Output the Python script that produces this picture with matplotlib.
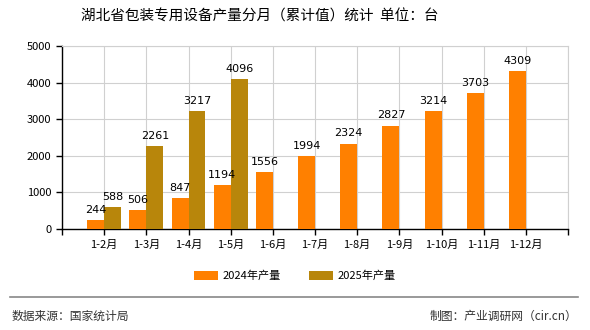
import matplotlib

matplotlib.use("Agg")
import matplotlib.pyplot as plt
import numpy as np

plt.rcParams["font.family"] = ["Noto Sans CJK SC", "DejaVu Sans"]

categories = ["1-2月", "1-3月", "1-4月", "1-5月", "1-6月", "1-7月",
              "1-8月", "1-9月", "1-10月", "1-11月", "1-12月"]
values_2024 = [244, 506, 847, 1194, 1556, 1994, 2324, 2827, 3214, 3703, 4309]
values_2025 = [588, 2261, 3217, 4096]
series_names = ["2024年产量", "2025年产量"]
color_2024 = "#FF8000"
color_2025 = "#B8860B"

fig = plt.figure(figsize=(5.9, 3.3), dpi=100)
ax = fig.add_axes((62 / 590, 1 - 229 / 330, (568 - 62) / 590, (229 - 46) / 330))

x = np.arange(len(categories))
w = 0.4
b1 = ax.bar(x - w / 2, values_2024, width=w, color=color_2024, label=series_names[0], zorder=3)
x25 = np.arange(len(values_2025))
b2 = ax.bar(x25 + w / 2, values_2025, width=w, color=color_2025, label=series_names[1], zorder=3)

for bars, vals in ((b1, values_2024), (b2, values_2025)):
    for bar, v in zip(bars, vals):
        ax.text(bar.get_x() + bar.get_width() / 2, v + 150, f"{v}",
                ha="center", va="bottom", fontsize=8, family="DejaVu Sans", zorder=4)

ax.set_xlim(-1, len(categories))
ax.set_ylim(0, 5000)
ax.set_yticks(range(0, 5001, 1000))
ax.set_xticks(np.arange(-1, len(categories) + 1))
ax.set_xticklabels([""] + categories + [""], fontsize=8)
ax.tick_params(axis="y", labelsize=8, length=4, width=1)
ax.tick_params(axis="x", length=4, width=1)
ax.grid(True, color="#d0d0d0", linewidth=0.8, zorder=0)

for side in ("top", "right"):
    ax.spines[side].set_color("#d0d0d0")
    ax.spines[side].set_linewidth(0.8)
for side in ("left", "bottom"):
    ax.spines[side].set_color("black")
    ax.spines[side].set_linewidth(1)

fig.text(260 / 590, 1 - 17 / 330, "湖北省包装专用设备产量分月（累计值）统计  单位：台",
         ha="center", va="center", fontsize=10.5)

fig.legend(handles=[b1, b2], loc="center", bbox_to_anchor=(0.5, 1 - 276 / 330),
           ncol=2, frameon=False, fontsize=8, handlelength=2.2, handleheight=0.8,
           columnspacing=2.5, handletextpad=0.4)

fig.add_artist(plt.Line2D([10 / 590, 578 / 590], [1 - 297 / 330, 1 - 297 / 330],
                          color="#888888", linewidth=1.2))
fig.text(12 / 590, 1 - 316 / 330, "数据来源：国家统计局", ha="left", va="center",
         fontsize=8.5, color="#333333")
fig.text(577 / 590, 1 - 316 / 330, "制图：产业调研网（cir.cn）", ha="right", va="center",
         fontsize=8.5, color="#333333")

fig.savefig("out.png", dpi=100)
